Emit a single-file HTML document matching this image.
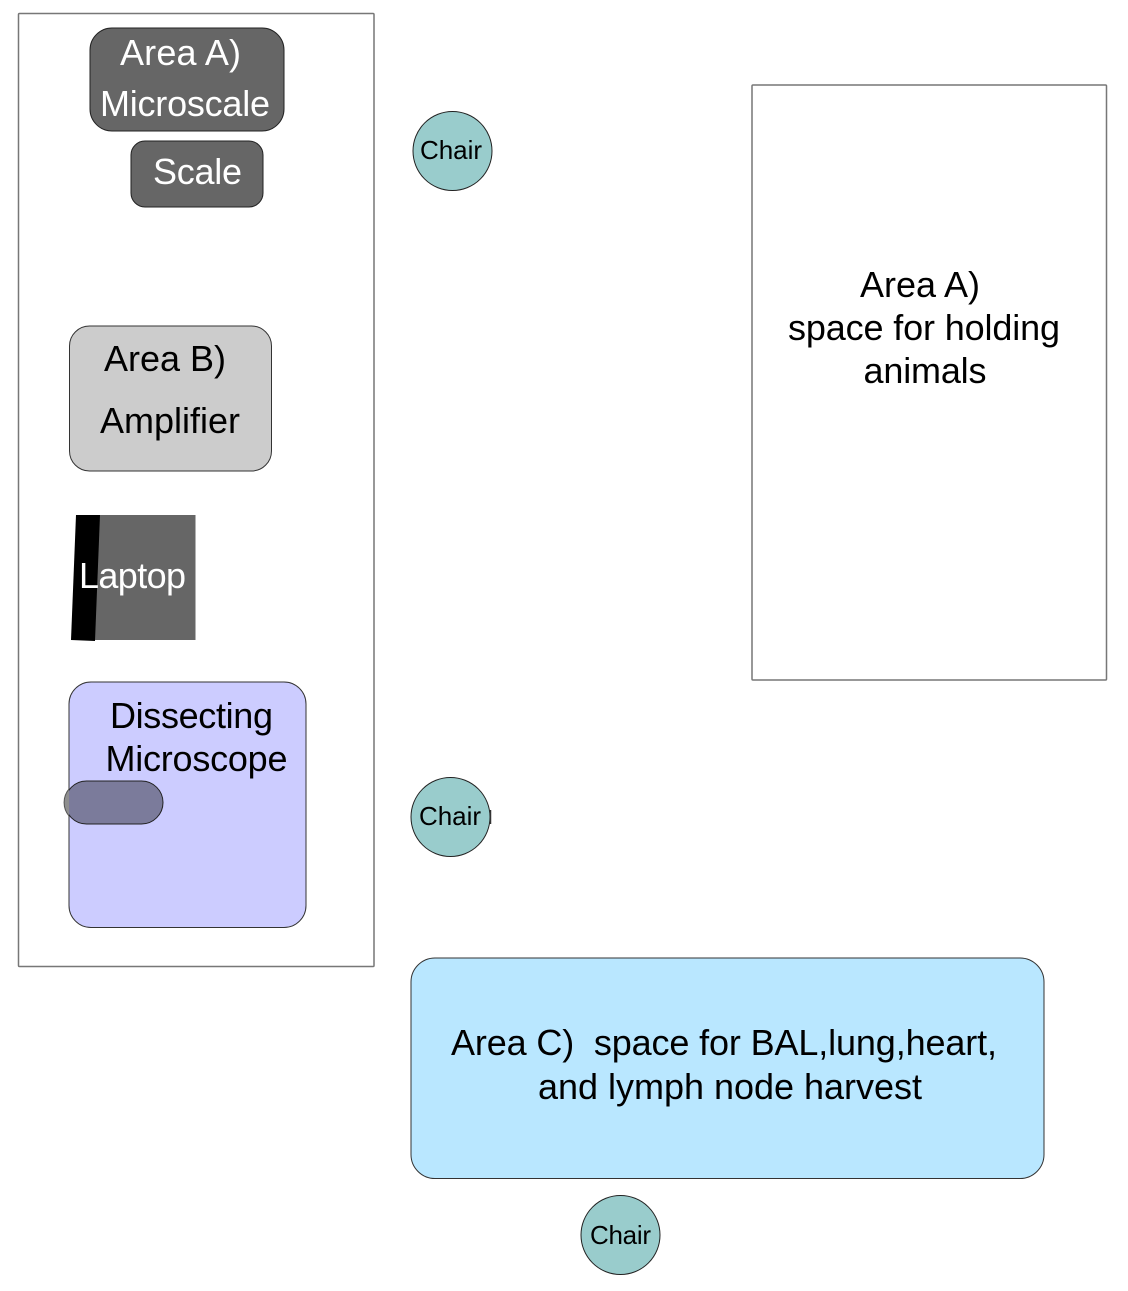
<!DOCTYPE html>
<html>
<head>
<meta charset="utf-8">
<style>
html,body{margin:0;padding:0;background:#fff;}
svg{display:block;}
text{font-family:"Liberation Sans",sans-serif;}
</style>
</head>
<body>
<svg width="1128" height="1291" viewBox="0 0 1128 1291" xmlns="http://www.w3.org/2000/svg">
<rect x="18.500" y="13.500" width="355.500" height="953" fill="#fff" stroke="#777" stroke-width="1.500" rx="1"/>
<rect x="752" y="85" width="354.500" height="595" fill="#fff" stroke="#777" stroke-width="1.500" rx="1"/>

<rect x="90" y="28" width="194" height="103" rx="22" fill="#666" stroke="#222" stroke-width="1"/>
<text x="120" y="65" font-size="36" fill="#fff" textLength="121">Area A)</text>
<text x="100" y="116" font-size="36" fill="#fff" textLength="170">Microscale</text>

<rect x="131" y="141" width="132" height="66" rx="14" fill="#666" stroke="#222" stroke-width="1"/>
<text x="153" y="184" font-size="36" fill="#fff" textLength="89">Scale</text>

<rect x="69.500" y="326" width="202" height="145" rx="20" fill="#ccc" stroke="#333" stroke-width="1"/>
<text x="104" y="371" font-size="36" fill="#000" textLength="122">Area B)</text>
<text x="100" y="433" font-size="36" fill="#000" textLength="140">Amplifier</text>

<rect x="76" y="515" width="119.500" height="125" fill="#666"/>
<polygon points="76,515 100,515 95,641 71,640" fill="#000"/>
<text x="79" y="588" font-size="36" fill="#fff" textLength="107">Laptop</text>

<rect x="69" y="682" width="237" height="245.500" rx="22" fill="#ccf" stroke="#333" stroke-width="1"/>
<text x="110" y="728" font-size="36" fill="#000" textLength="163">Dissecting</text>
<text x="105.500" y="771" font-size="36" fill="#000" textLength="182">Microscope</text>
<rect x="65" y="781" width="98" height="43" rx="21.500" fill="#7b7b9b" stroke="#222" stroke-width="1"/>
<path d="M69 789 A 21 21 0 0 0 69 816" fill="#8f8f8f" stroke="#555" stroke-width="1"/>

<circle cx="452.500" cy="151" r="39.500" fill="#9cc" stroke="#222" stroke-width="1"/>
<text x="420" y="159" font-size="26" fill="#000" textLength="62">Chair</text>

<circle cx="450.500" cy="817" r="39.500" fill="#9cc" stroke="#222" stroke-width="1"/>
<line x1="490.500" y1="810" x2="490.500" y2="824" stroke="#333" stroke-width="1.500"/>
<text x="419" y="825" font-size="26" fill="#000" textLength="62">Chair</text>

<rect x="411" y="958" width="633" height="220.500" rx="24" fill="#b9e7ff" stroke="#333" stroke-width="1"/>
<text x="451" y="1055" font-size="36" fill="#000" textLength="546" xml:space="preserve">Area C)  space for BAL,lung,heart,</text>
<text x="538" y="1099" font-size="36" fill="#000" textLength="384">and lymph node harvest</text>

<circle cx="620.500" cy="1235" r="39.500" fill="#9cc" stroke="#222" stroke-width="1"/>
<text x="590" y="1244" font-size="26" fill="#000" textLength="61">Chair</text>

<text x="860" y="297" font-size="36" fill="#000" textLength="120">Area A)</text>
<text x="788" y="340" font-size="36" fill="#000" textLength="272">space for holding</text>
<text x="863.500" y="383" font-size="36" fill="#000" textLength="123">animals</text>
</svg>
</body>
</html>
